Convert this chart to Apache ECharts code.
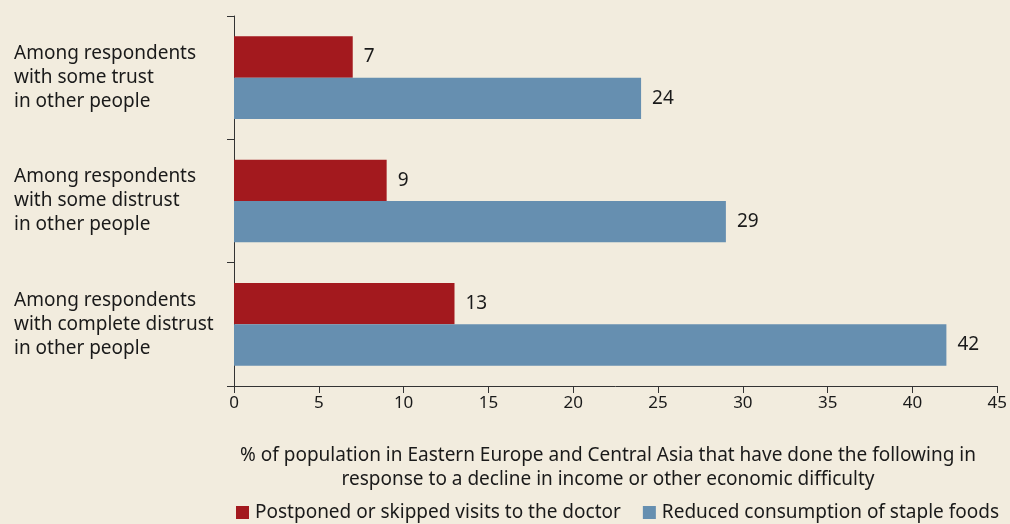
<!DOCTYPE html>
<html>
<head>
<meta charset="utf-8">
<script src="https://cdn.jsdelivr.net/npm/echarts@6/dist/echarts.min.js"></script>
<style>
  html, body { margin: 0; padding: 0; background: #F2ECDE; }
  #chart { width: 1010px; height: 524px; }
</style>
</head>
<body>
<div id="chart"></div>
<script>
// Respondent groups, top to bottom
const categories = [
  'Among respondents\nwith some trust\nin other people',
  'Among respondents\nwith some distrust\nin other people',
  'Among respondents\nwith complete distrust\nin other people'
];
const seriesNames = [
  'Postponed or skipped visits to the doctor',
  'Reduced consumption of staple foods'
];
const doctorValues = [7, 9, 13];
const foodValues = [24, 29, 42];
const axisTitle = '% of population in Eastern Europe and Central Asia that have done the following in\nresponse to a decline in income or other economic difficulty';

const FONT = '"Noto Sans", "Open Sans", sans-serif';
const TEXT = '#1a1a1a';

const chart = echarts.init(document.getElementById('chart'));
chart.setOption({
  backgroundColor: '#F2ECDE',
  animation: false,
  textStyle: { fontFamily: FONT },
  title: {
    text: axisTitle,
    left: 603,
    top: 439,
    textAlign: 'center',
    textStyle: { fontFamily: FONT, fontSize: 19, fontWeight: 'normal', color: TEXT, lineHeight: 24 }
  },
  legend: {
    top: 498,
    left: 231,
    itemWidth: 13,
    itemHeight: 13,
    itemGap: 22,
    icon: 'rect',
    textStyle: { fontFamily: FONT, fontSize: 19, color: TEXT, padding: [0, 0, 0, 1] },
    data: seriesNames
  },
  grid: { left: 234, right: 10, top: 16, bottom: 138, containLabel: false },
  xAxis: {
    type: 'value',
    min: 0,
    max: 45,
    interval: 5,
    axisLine: { show: true, lineStyle: { color: '#333', width: 1 } },
    axisTick: { show: true, length: 7, lineStyle: { color: '#333' } },
    splitLine: { show: false },
    axisLabel: { fontFamily: FONT, fontSize: 17, color: TEXT, margin: 9 }
  },
  yAxis: {
    type: 'category',
    inverse: true,
    data: categories,
    axisLine: { show: true, lineStyle: { color: '#333', width: 1 } },
    axisTick: { show: true, length: 7, lineStyle: { color: '#333' } },
    axisLabel: {
      fontFamily: FONT, fontSize: 19, color: TEXT,
      align: 'left', margin: 220, lineHeight: 24
    }
  },
  series: [
    {
      name: seriesNames[0],
      type: 'bar',
      data: doctorValues,
      barGap: '0%',
      barCategoryGap: '33%',
      itemStyle: { color: '#A3191E' },
      label: { show: true, position: 'right', distance: 11, fontFamily: FONT, fontSize: 19, color: TEXT }
    },
    {
      name: seriesNames[1],
      type: 'bar',
      data: foodValues,
      barGap: '0%',
      barCategoryGap: '33%',
      itemStyle: { color: '#668FB0' },
      label: { show: true, position: 'right', distance: 11, fontFamily: FONT, fontSize: 19, color: TEXT }
    }
  ]
});
</script>
</body>
</html>
